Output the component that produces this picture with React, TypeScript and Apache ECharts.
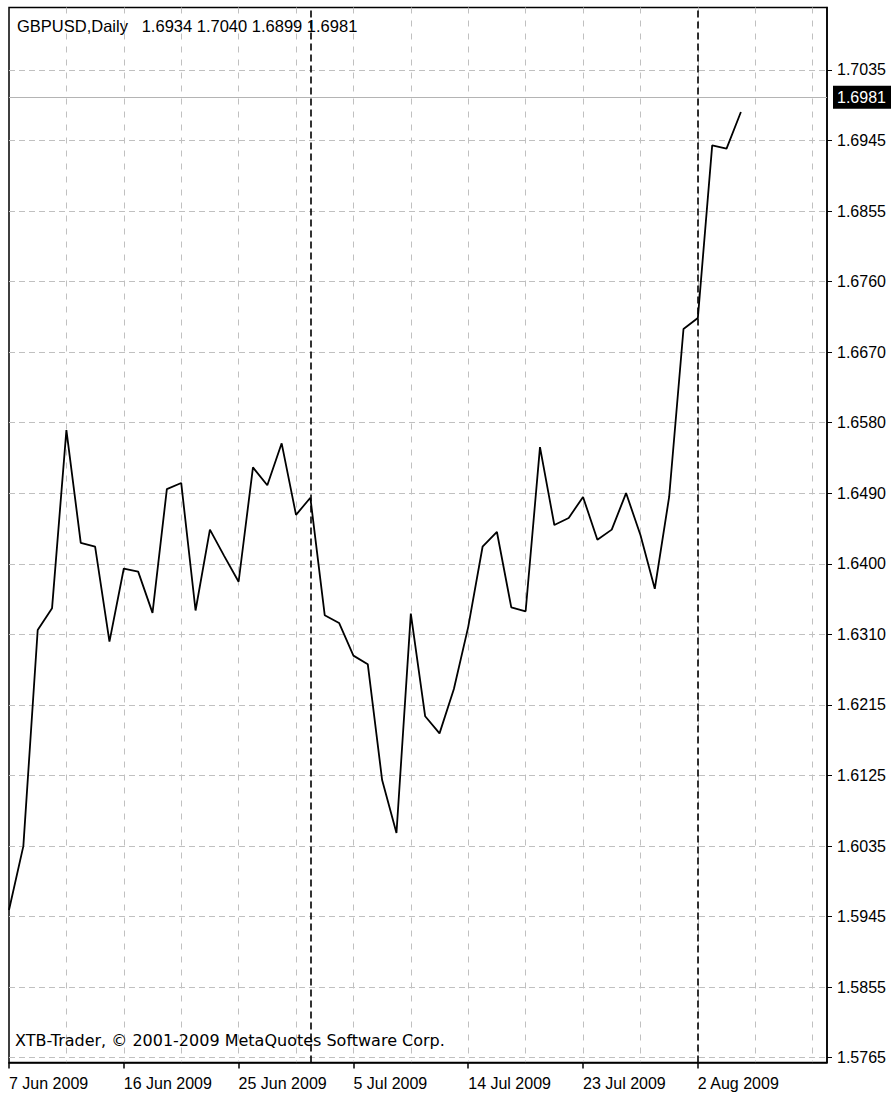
import React, { useEffect, useRef } from 'react';
import * as echarts from 'echarts';

const symbol = 'GBPUSD';
const period = 'Daily';
const lastBarOHLC = ['1.6934', '1.7040', '1.6899', '1.6981'];
const copyright = 'XTB-Trader, \u00A9 2001-2009 MetaQuotes Software Corp.';

// Daily bars (Sunday bars included, Saturdays skipped); the last ones are the empty future area
const dates = [
  '7 Jun 2009', '8 Jun 2009', '9 Jun 2009', '10 Jun 2009', '11 Jun 2009', '12 Jun 2009',
  '14 Jun 2009', '15 Jun 2009', '16 Jun 2009', '17 Jun 2009', '18 Jun 2009', '19 Jun 2009',
  '21 Jun 2009', '22 Jun 2009', '23 Jun 2009', '24 Jun 2009', '25 Jun 2009', '26 Jun 2009',
  '28 Jun 2009', '29 Jun 2009', '30 Jun 2009', '1 Jul 2009', '2 Jul 2009', '3 Jul 2009',
  '5 Jul 2009', '6 Jul 2009', '7 Jul 2009', '8 Jul 2009', '9 Jul 2009', '10 Jul 2009',
  '12 Jul 2009', '13 Jul 2009', '14 Jul 2009', '15 Jul 2009', '16 Jul 2009', '17 Jul 2009',
  '19 Jul 2009', '20 Jul 2009', '21 Jul 2009', '22 Jul 2009', '23 Jul 2009', '24 Jul 2009',
  '26 Jul 2009', '27 Jul 2009', '28 Jul 2009', '29 Jul 2009', '30 Jul 2009', '31 Jul 2009',
  '2 Aug 2009', '3 Aug 2009', '4 Aug 2009', '5 Aug 2009', '6 Aug 2009', '7 Aug 2009',
  '9 Aug 2009', '10 Aug 2009', '11 Aug 2009', '12 Aug 2009',
];

const xLabelDates = [
  '7 Jun 2009', '16 Jun 2009', '25 Jun 2009', '5 Jul 2009', '14 Jul 2009', '23 Jul 2009', '2 Aug 2009',
];

const closes = [
  1.5955, 1.6037, 1.6315, 1.6343, 1.6572, 1.6427, 1.6422, 1.6300, 1.6394, 1.6390,
  1.6337, 1.6496, 1.6504, 1.6340, 1.6444, 1.6410, 1.6377, 1.6524, 1.6501, 1.6555,
  1.6463, 1.6485, 1.6334, 1.6324, 1.6282, 1.6271, 1.6122, 1.6054, 1.6336, 1.6204,
  1.6182, 1.6239, 1.6319, 1.6422, 1.6441, 1.6344, 1.6339, 1.6550, 1.6450, 1.6459,
  1.6486, 1.6431, 1.6444, 1.6491, 1.6437, 1.6368, 1.6486, 1.6702, 1.6716, 1.6938,
  1.6934, 1.6981,
];

const yTickLabels = [
  '1.5765', '1.5855', '1.5945', '1.6035', '1.6125', '1.6215', '1.6310', '1.6400',
  '1.6490', '1.6580', '1.6670', '1.6760', '1.6855', '1.6945', '1.7035',
];
const yTickStart = 1.5765;
const yTickEnd = 1.7035;
const yMin = 1.575883;
const yMax = 1.711536;

const monthSeparators = ['1 Jul 2009', '2 Aug 2009'];
const lastPrice = 1.6981;

const FONT = '"Liberation Sans", Arial, sans-serif';
const FONT_TEXT = '"DejaVu Sans", sans-serif';

export default function App() {
  const ref = useRef<HTMLDivElement>(null);

  useEffect(() => {
    if (!ref.current) return;
    const chart = echarts.init(ref.current, undefined, { renderer: 'svg', width: 891, height: 1094 });
    const step = (yTickEnd - yTickStart) / (yTickLabels.length - 1);
    const yTickValues = yTickLabels.map((_, k) => yTickStart + k * step);
    const gridColor = '#c0c0c0';
    const isLabelIdx = (i: number) => xLabelDates.indexOf(dates[i]) >= 0;

    chart.setOption({
      animation: false,
      backgroundColor: '#ffffff',
      grid: {
        left: 9,
        right: 64,
        top: 7.5,
        bottom: 31.5,
        show: true,
        borderColor: '#000',
        borderWidth: 1.5,
        containLabel: false,
      },
      xAxis: {
        type: 'category',
        data: dates,
        boundaryGap: false,
        axisLine: { show: true, lineStyle: { color: '#000', width: 1.5 } },
        axisTick: {
          show: true,
          interval: (i: number) => isLabelIdx(i),
          length: 6,
          lineStyle: { color: '#000', width: 1.5 },
        },
        axisLabel: {
          interval: (i: number) => isLabelIdx(i),
          align: 'left',
          margin: 13,
          color: '#000',
          fontSize: 16,
          fontFamily: FONT,
        },
        splitLine: {
          show: true,
          interval: (i: number) => i % 4 === 0 && i > 0,
          lineStyle: { color: gridColor, type: [6, 7], width: 1 },
        },
      },
      yAxis: {
        type: 'value',
        position: 'right',
        min: yMin,
        max: yMax,
        axisLine: { show: true, lineStyle: { color: '#000', width: 1.5 } },
        axisTick: {
          show: true,
          length: 5,
          customValues: yTickValues,
          lineStyle: { color: '#000', width: 1 },
        },
        axisLabel: {
          customValues: yTickValues,
          formatter: (v: number) => {
            const k = Math.round((v - yTickStart) / step);
            return yTickLabels[k] ?? '';
          },
          margin: 10,
          color: '#000',
          fontSize: 16,
          fontFamily: FONT,
        },
        splitLine: {
          show: true,
          lineStyle: { color: gridColor, type: [6, 4], width: 1 },
        },
      },
      graphic: [
        {
          type: 'text',
          left: 17,
          top: 17,
          z: 100,
          style: {
            text: `${symbol},${period}   ${lastBarOHLC.join(' ')}`,
            fontSize: 16.5,
            fontFamily: FONT,
            fill: '#000',
          },
        },
        {
          type: 'text',
          left: 15,
          top: 1032,
          z: 100,
          style: {
            text: copyright,
            fontSize: 16,
            fontFamily: FONT_TEXT,
            fill: '#000',
          },
        },
      ],
      series: [
        {
          type: 'line',
          data: closes,
          showSymbol: false,
          symbol: 'none',
          silent: true,
          lineStyle: { color: '#000', width: 1.8 },
          z: 5,
          markLine: {
            silent: true,
            symbol: ['none', 'none'],
            animation: false,
            data: [
              {
                yAxis: lastPrice,
                lineStyle: { color: '#b4b4b4', type: 'solid', width: 1.2 },
                label: {
                  show: true,
                  position: 'end',
                  formatter: lastBarOHLC[3],
                  color: '#fff',
                  backgroundColor: '#000',
                  padding: [4, 6, 3, 4],
                  fontSize: 16,
                  fontFamily: FONT,
                  distance: 6,
                },
              },
              ...monthSeparators.map((d) => ({
                xAxis: d,
                lineStyle: { color: '#000', type: [7, 4], width: 1.6 },
                label: { show: false },
              })),
            ],
          },
        },
      ],
    });

    return () => {
      chart.dispose();
    };
  }, []);

  return (
    <div
      ref={ref}
      style={{ position: 'fixed', left: 0, top: 0, width: 891, height: 1094, overflow: 'hidden' }}
    />
  );
}
